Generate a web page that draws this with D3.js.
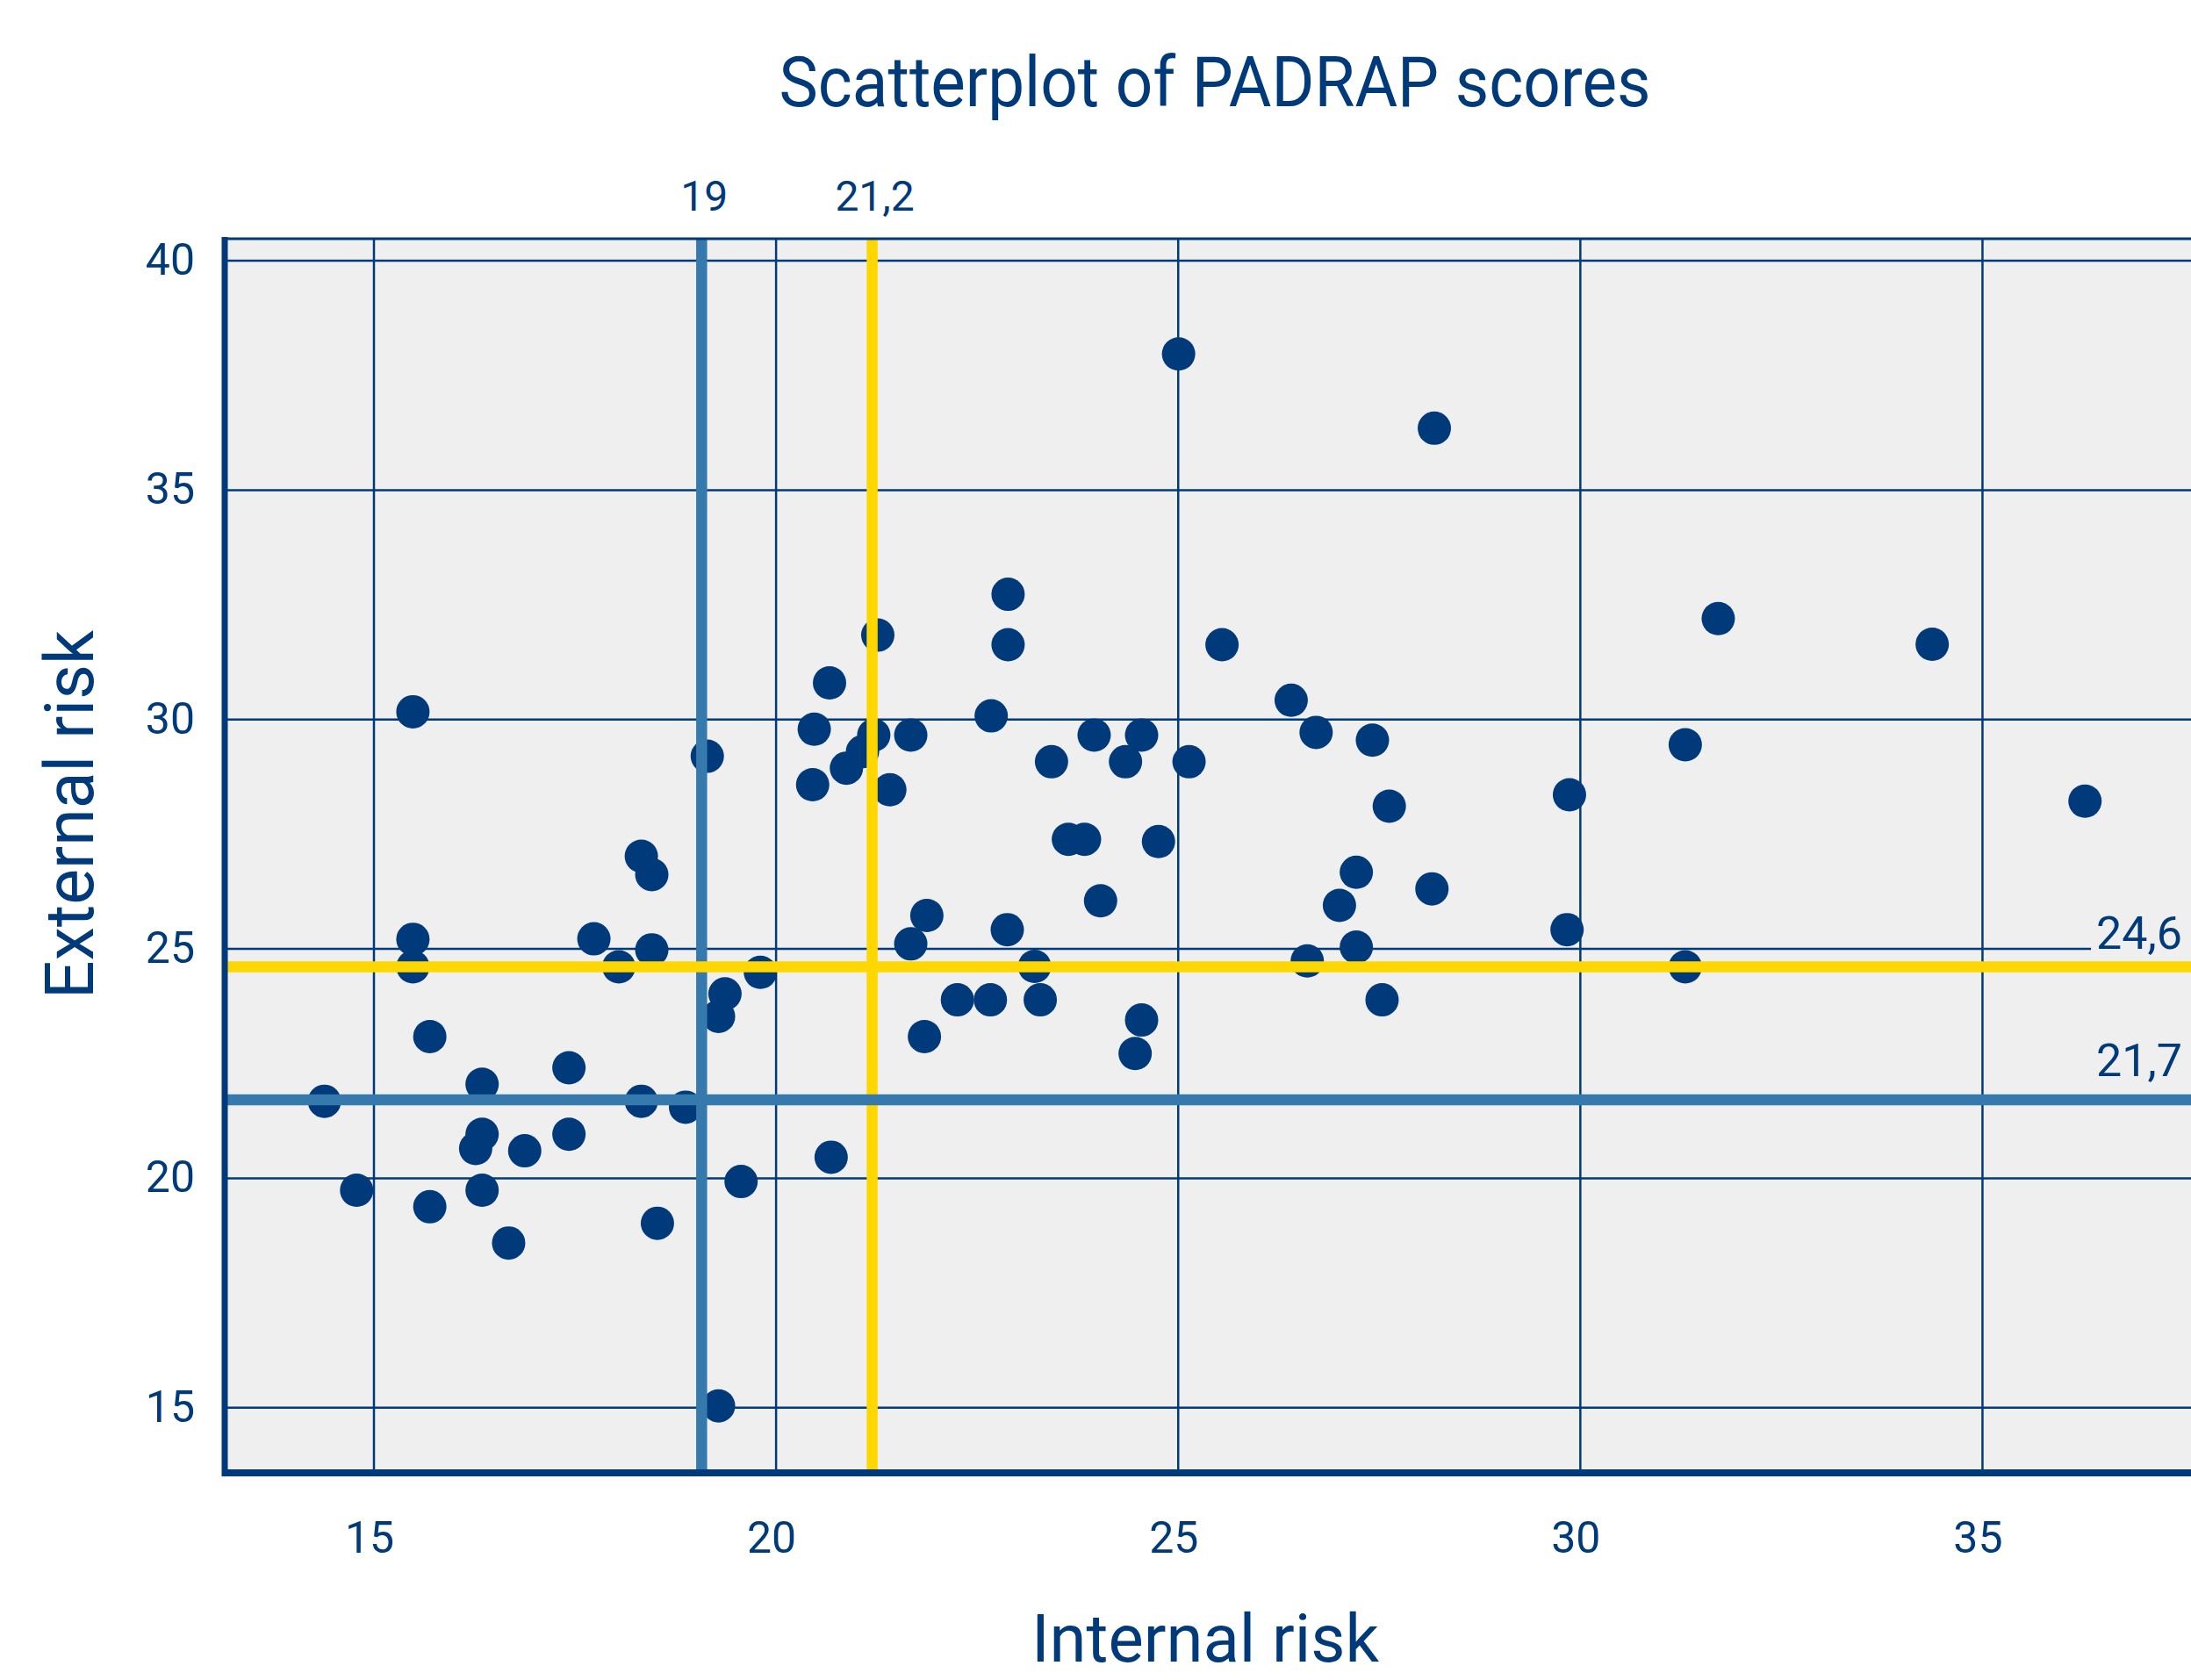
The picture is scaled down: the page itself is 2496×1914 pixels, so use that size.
<!DOCTYPE html>
<html>
<head>
<meta charset="utf-8">
<script src="https://cdn.jsdelivr.net/npm/d3@7"></script>
<style>
    body { margin: 0; background: #fff; }
    text { font-family: Roboto, "Open Sans", sans-serif; fill: #003a7a; }
</style>
</head>
<body>
<div id="chart"></div>
<script>

// PADRAP scores (one entry per country)
var internalRisk = [14.39, 14.79, 15.49, 15.49, 15.49, 15.70, 15.70, 16.35, 16.35, 16.27,
    16.35, 16.68, 16.88, 17.43, 17.43, 17.74, 18.05, 18.33, 18.46, 18.46,
    18.33, 18.53, 18.88, 19.15, 19.37, 19.29, 19.29, 19.57, 19.81, 20.48,
    20.46, 20.67, 20.69, 20.88, 21.08, 21.22, 21.27, 21.42, 21.68, 21.68,
    21.85, 21.88, 22.26, 22.68, 22.67, 22.89, 22.89, 22.88, 23.22, 23.29,
    23.43, 23.64, 23.84, 23.96, 24.04, 24.35, 24.47, 24.55, 24.55, 24.76,
    25.01, 25.14, 25.55, 26.41, 26.61, 26.72, 27.01, 27.22, 27.22, 27.42,
    27.54, 27.63, 28.16, 28.19, 29.84, 29.87, 31.31, 31.31, 31.72, 34.38,
    36.28];
var externalRisk = [21.67, 19.73, 30.16, 25.20, 24.60, 23.08, 19.37, 22.04, 20.95, 20.64,
    19.73, 18.58, 20.59, 22.40, 20.95, 25.21, 24.60, 27.01, 26.61, 24.97,
    21.67, 19.01, 21.54, 29.19, 24.01, 23.52, 15.03, 19.92, 24.48, 29.78,
    28.57, 30.79, 20.45, 28.93, 29.29, 29.65, 31.83, 28.46, 29.65, 25.10,
    23.08, 25.72, 23.88, 30.07, 23.88, 32.72, 31.62, 25.41, 24.61, 23.88,
    29.07, 27.38, 27.38, 29.65, 26.04, 29.07, 22.71, 29.65, 23.44, 27.33,
    37.96, 29.07, 31.62, 30.41, 24.73, 29.71, 25.94, 26.66, 25.03, 29.54,
    23.88, 28.10, 26.30, 36.34, 25.41, 28.35, 29.44, 24.60, 32.19, 31.63,
    28.21];

// reference lines (blue = median, yellow = mean)
var xCutValues = [19.08, 21.2];
var xCutLabels = ["19", "21,2"];
var yCutValues = [24.6, 21.7];
var yCutLabels = ["24,6", "21,7"];

var xTicks = [15, 20, 25, 30, 35];
var yTicks = [15, 20, 25, 30, 35, 40];

var navy = "#003a7a", steel = "#3579ad", gold = "#ffd700", plotBg = "#efefef";

drawChart();

function drawChart() {

    var W = 2496, H = 1914;
    var plot = { left: 256, right: 2520, top: 272, bottom: 1678 };

    var svg = d3.select("#chart").append("svg")
        .attr("width", W)
        .attr("height", H);

    var xScale = d3.scaleLinear()
        .domain([13.15, 37.86])
        .range([plot.left, plot.right]);

    var yScale = d3.scaleLinear()
        .domain([13.57, 40.47])
        .range([plot.bottom, plot.top]);

    // plot background
    svg.append("rect")
        .attr("x", plot.left)
        .attr("y", plot.top)
        .attr("width", plot.right - plot.left)
        .attr("height", plot.bottom - plot.top)
        .attr("fill", plotBg);

    // grid + tick labels from the axes
    var xAxis = d3.axisBottom(xScale)
        .tickValues(xTicks)
        .tickSize(-(plot.bottom - plot.top))
        .tickPadding(55)
        .tickFormat(d3.format("d"));

    var gx = svg.append("g")
        .attr("class", "x axis")
        .attr("transform", "translate(0," + plot.bottom + ")")
        .call(xAxis);

    var yAxis = d3.axisLeft(yScale)
        .tickValues(yTicks)
        .tickSize(-(plot.right - plot.left))
        .tickPadding(34)
        .tickFormat(d3.format("d"));

    var gy = svg.append("g")
        .attr("class", "y axis")
        .attr("transform", "translate(" + plot.left + ",0)")
        .call(yAxis);

    [gx, gy].forEach(function (g) {
        g.select(".domain").remove();
        g.selectAll(".tick line")
            .attr("stroke", navy)
            .attr("stroke-width", 2.5);
        g.selectAll(".tick text")
            .attr("fill", navy)
            .style("font-size", "50px")
            .style("font-family", "Roboto, 'Open Sans', sans-serif");
    });
    gx.selectAll(".tick text").attr("dx", -5);

    // dots
    var points = internalRisk.map(function (d, i) { return [d, externalRisk[i]]; });

    svg.selectAll(".dot")
        .data(points)
        .enter()
        .append("circle")
        .attr("class", "dot")
        .attr("cx", function (d) { return xScale(d[0]); })
        .attr("cy", function (d) { return yScale(d[1]); })
        .attr("r", 19)
        .attr("fill", navy);

    // vertical reference lines
    svg.selectAll(".xcut")
        .data(xCutValues)
        .enter()
        .append("line")
        .attr("class", "xcut")
        .attr("x1", function (d) { return xScale(d); })
        .attr("x2", function (d) { return xScale(d); })
        .attr("y1", plot.top)
        .attr("y2", plot.bottom)
        .attr("stroke", function (d, i) { return i === 0 ? steel : gold; })
        .attr("stroke-width", 12.5);

    svg.selectAll(".xcut-label")
        .data(xCutValues)
        .enter()
        .append("text")
        .attr("class", "xcut-label")
        .attr("x", function (d) { return xScale(d) + 3; })
        .attr("y", 240)
        .attr("text-anchor", "middle")
        .style("font-size", "48px")
        .text(function (d, i) { return xCutLabels[i]; });

    // horizontal reference lines
    svg.selectAll(".ycut")
        .data(yCutValues)
        .enter()
        .append("line")
        .attr("class", "ycut")
        .attr("x1", plot.left)
        .attr("x2", plot.right)
        .attr("y1", function (d) { return yScale(d); })
        .attr("y2", function (d) { return yScale(d); })
        .attr("stroke", function (d, i) { return i === 0 ? gold : steel; })
        .attr("stroke-width", 12.5);

    var yLabels = svg.selectAll(".ycut-label")
        .data(yCutValues)
        .enter()
        .append("g")
        .attr("class", "ycut-label");

    yLabels.append("text")
        .attr("x", 2486)
        .attr("y", function (d, i) { return yScale(d) - (i === 0 ? 20 : 27); })
        .attr("text-anchor", "end")
        .style("font-size", "52px")
        .text(function (d, i) { return yCutLabels[i]; });

    // background patch so the gridline stops at the label (runs off the right edge)
    yLabels.each(function () {
        var g = d3.select(this);
        var bb = g.select("text").node().getBBox();
        g.insert("rect", "text")
            .attr("x", bb.x - 6)
            .attr("y", bb.y)
            .attr("width", plot.right - bb.x + 6)
            .attr("height", bb.height)
            .attr("fill", plotBg);
    });

    // axis frame
    svg.append("line")
        .attr("x1", plot.left).attr("x2", plot.right)
        .attr("y1", plot.top).attr("y2", plot.top)
        .attr("stroke", navy).attr("stroke-width", 3);

    svg.append("line")
        .attr("x1", plot.left).attr("x2", plot.left)
        .attr("y1", plot.top - 2).attr("y2", plot.bottom + 4)
        .attr("stroke", navy).attr("stroke-width", 7);

    svg.append("line")
        .attr("x1", plot.left - 3).attr("x2", plot.right)
        .attr("y1", plot.bottom).attr("y2", plot.bottom)
        .attr("stroke", navy).attr("stroke-width", 8);

    // titles
    svg.append("text")
        .attr("x", 1384)
        .attr("y", 121)
        .attr("text-anchor", "middle")
        .attr("textLength", 993)
        .attr("lengthAdjust", "spacingAndGlyphs")
        .style("font-size", "80px")
        .text("Scatterplot of PADRAP scores");

    svg.append("text")
        .attr("x", 1373)
        .attr("y", 1893)
        .attr("text-anchor", "middle")
        .style("font-size", "76px")
        .text("Internal risk");

    svg.append("text")
        .attr("transform", "translate(106,928) rotate(-90)")
        .attr("text-anchor", "middle")
        .style("font-size", "77px")
        .text("External risk");
}
</script>
</body>
</html>
